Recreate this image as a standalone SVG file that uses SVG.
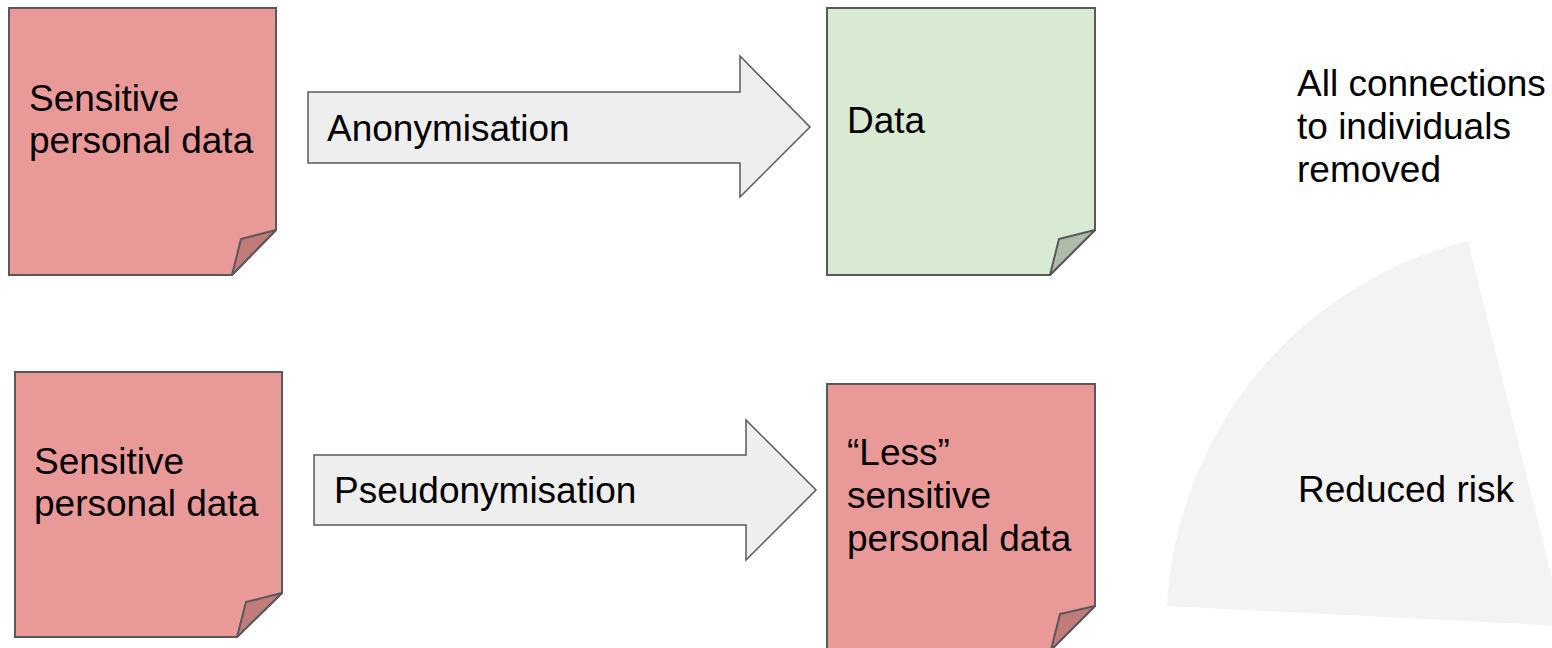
<svg xmlns="http://www.w3.org/2000/svg" width="1552" height="648" viewBox="0 0 1552 648">
<style>
.red{fill:#ea9999;stroke:#595959;stroke-width:2;stroke-linejoin:miter}
.redf{fill:#c17b7b;stroke:#595959;stroke-width:2;stroke-linejoin:round}
.grn{fill:#d9ead3;stroke:#595959;stroke-width:2}
.grnf{fill:#adbba8;stroke:#595959;stroke-width:2;stroke-linejoin:round}
.arr{fill:#eeeeee;stroke:#595959;stroke-width:1.5}
text{font-family:"Liberation Sans",Arial,sans-serif;font-size:37px;fill:#000}
</style>
<rect width="1552" height="648" fill="#ffffff"/>
<g id="risk-wedge">
<path d="M1564,626 L1167,606 A397,397 0 0 1 1468,241 Z" fill="#f3f3f3"/>
</g>
<g id="note-sensitive-1">
<polygon class="red" points="9,8 276,8 276,230 232,275 9,275"/>
<polygon class="redf" points="276,230 241,239 232,275"/>
<text x="29" y="111">Sensitive</text>
<text x="29" y="153">personal data</text>
</g>
<g id="connectors">
<g id="arrow-anonymisation">
<polygon class="arr" points="308,92 740,92 740,56 810,127 740,197 740,163 308,163"/>
<text x="327" y="141">Anonymisation</text>
</g>
<g id="arrow-pseudonymisation">
<polygon class="arr" points="314,455 746,455 746,420 816,490 746,560 746,525 314,525"/>
<text x="334" y="503">Pseudonymisation</text>
</g>
</g>
<g id="note-data">
<polygon class="grn" points="827,8 1095,8 1095,230 1050,275 827,275"/>
<polygon class="grnf" points="1095,230 1059,239 1050,275"/>
<text x="847" y="133">Data</text>
</g>
<g id="label-removed">
<text x="1297" y="96">All connections</text>
<text x="1297" y="139">to individuals</text>
<text x="1297" y="182">removed</text>
</g>
<g id="note-sensitive-2">
<polygon class="red" points="15,372 282,372 282,593 237,637 15,637"/>
<polygon class="redf" points="282,593 246,602 237,637"/>
<text x="34" y="474">Sensitive</text>
<text x="34" y="516">personal data</text>
</g>
<g id="note-less-sensitive">
<polygon class="red" points="827,384 1095,384 1095,606 1051,650 827,650"/>
<polygon class="redf" points="1095,606 1060,614 1051,650"/>
<text x="847" y="465">“Less”</text>
<text x="847" y="508">sensitive</text>
<text x="847" y="551">personal data</text>
</g>
<g id="label-reduced">
<text x="1298" y="502">Reduced risk</text>
</g>
</svg>
